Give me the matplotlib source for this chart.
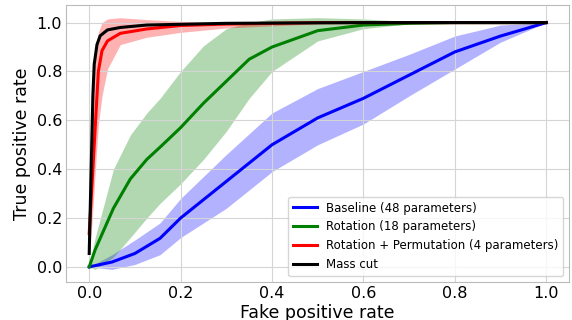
import matplotlib
matplotlib.use("Agg")
import matplotlib.pyplot as plt

# Baseline (48 parameters)
base_x = [0.0, 0.05, 0.1, 0.155, 0.2, 0.3, 0.4, 0.5, 0.6, 0.7, 0.8, 0.9, 1.0]
base_y = [0.0, 0.02, 0.055, 0.117, 0.2, 0.35, 0.5, 0.61, 0.69, 0.785, 0.88, 0.945, 1.0]
base_lo = [0.0, -0.01, 0.01, 0.05, 0.12, 0.24, 0.39, 0.5, 0.585, 0.70, 0.81, 0.92, 1.0]
base_hi = [0.0, 0.05, 0.11, 0.18, 0.28, 0.46, 0.63, 0.73, 0.80, 0.87, 0.945, 0.99, 1.0]

# Rotation (18 parameters)
rot_x = [0.0, 0.013, 0.053, 0.09, 0.126, 0.155, 0.2, 0.25, 0.3, 0.35, 0.4, 0.5, 0.6, 0.7, 0.8, 1.0]
rot_y = [0.0, 0.07, 0.24, 0.36, 0.44, 0.49, 0.57, 0.67, 0.76, 0.85, 0.90, 0.967, 0.99, 0.997, 1.0, 1.0]
rot_lo = [0.0, -0.01, 0.04, 0.12, 0.20, 0.26, 0.34, 0.44, 0.555, 0.69, 0.80, 0.925, 0.975, 0.995, 1.0, 1.0]
rot_hi = [0.0, 0.12, 0.40, 0.54, 0.63, 0.69, 0.80, 0.905, 0.975, 1.0, 1.015, 1.02, 1.015, 1.005, 1.0, 1.0]

# Rotation + Permutation (4 parameters)
perm_x = [0.0, 0.005, 0.0095, 0.017, 0.02, 0.028, 0.04, 0.068, 0.126, 0.2, 0.3, 0.5, 1.0]
perm_y = [0.137, 0.3, 0.45, 0.70, 0.80, 0.885, 0.925, 0.956, 0.974, 0.988, 0.994, 1.0, 1.0]
perm_lo = [0.05, 0.15, 0.28, 0.50, 0.58, 0.70, 0.81, 0.91, 0.94, 0.96, 0.978, 0.995, 1.0]
perm_hi = [0.30, 0.55, 0.80, 0.93, 0.96, 1.0, 1.015, 1.02, 1.012, 1.005, 1.0, 1.0, 1.0]

# Mass cut
mass_x = [0.0, 0.004, 0.008, 0.011, 0.017, 0.024, 0.04, 0.068, 0.126, 0.3, 0.6, 1.0]
mass_y = [0.055, 0.38, 0.70, 0.83, 0.91, 0.946, 0.97, 0.98, 0.99, 0.997, 1.0, 1.0]

plt.figure(figsize=(5.72, 3.2), dpi=100)
plt.fill_between(base_x, base_lo, base_hi, color="blue", alpha=0.3, linewidth=0)
plt.fill_between(rot_x, rot_lo, rot_hi, color="green", alpha=0.3, linewidth=0)
plt.fill_between(perm_x, perm_lo, perm_hi, color="red", alpha=0.3, linewidth=0)
plt.plot(base_x, base_y, color="blue", linewidth=2.2, label="Baseline (48 parameters)")
plt.plot(rot_x, rot_y, color="green", linewidth=2.2, label="Rotation (18 parameters)")
plt.plot(perm_x, perm_y, color="red", linewidth=2.2, label="Rotation + Permutation (4 parameters)")
plt.plot(mass_x, mass_y, color="black", linewidth=2.2, label="Mass cut")

ax = plt.gca()
for s in ax.spines.values():
    s.set_color("#bbbbbb")
ax.tick_params(length=0, pad=3)

plt.xlabel("Fake positive rate", fontsize=12.5)
plt.ylabel("True positive rate", fontsize=12.5)
ax.xaxis.set_label_coords(0.5, -0.078)
plt.xticks(fontsize=11.5)
plt.yticks(fontsize=11.5)
plt.grid(True, color="#d5d5d5")
plt.legend(loc="lower right", fontsize=8.5)
plt.subplots_adjust(left=0.116, right=0.995, top=0.984, bottom=0.119)
plt.savefig("out.png")
